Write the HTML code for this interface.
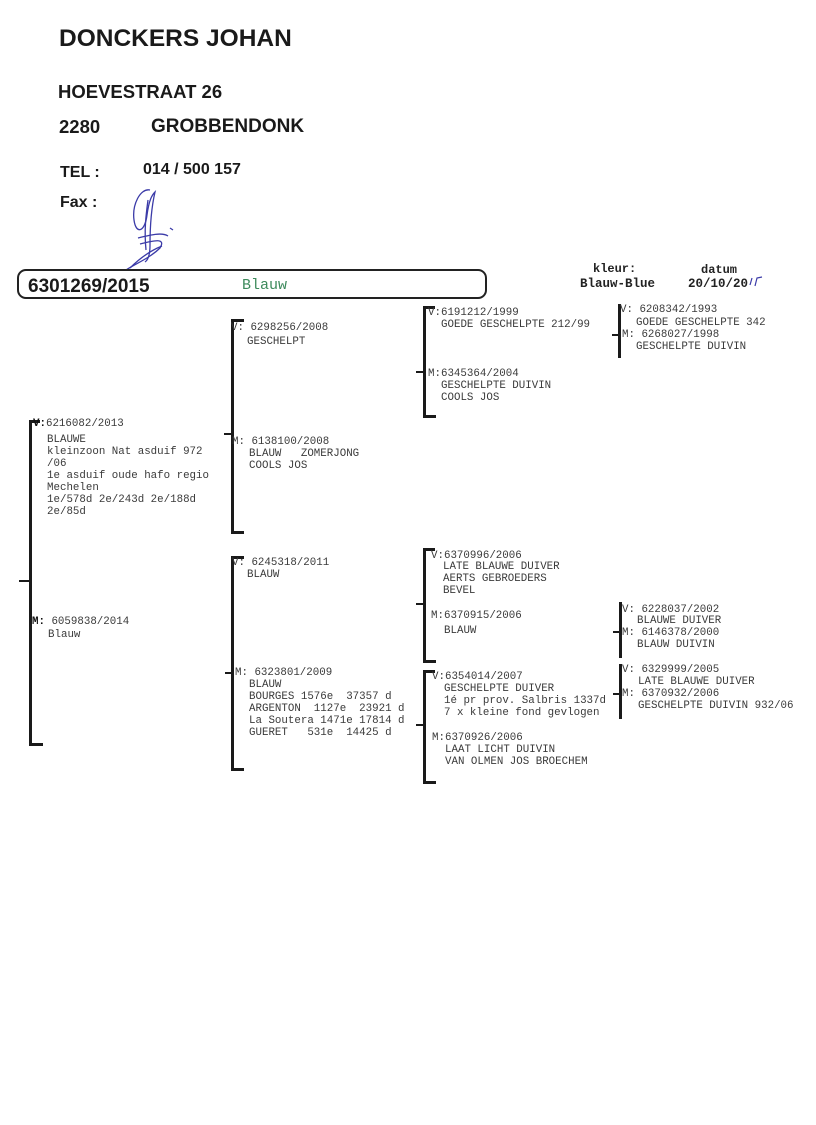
<!DOCTYPE html>
<html><head><meta charset="utf-8"><style>
body{margin:0;background:#fff;}
#p{position:relative;width:816px;height:1125px;overflow:hidden;background:#fff;}
.h{position:absolute;font-family:"Liberation Sans",Arial,sans-serif;font-weight:bold;color:#1a1a1a;white-space:pre;line-height:1;}
.t{position:absolute;font-family:"Liberation Mono","Courier New",monospace;font-size:10.8px;color:#3a3a3a;white-space:pre;line-height:12px;}
.l{position:absolute;font-family:"Liberation Mono","Courier New",monospace;font-size:10.8px;color:#3a3a3a;white-space:pre;line-height:14px;}
.b{position:absolute;background:#1a1a1a;}
.k{position:absolute;font-family:"Liberation Mono","Courier New",monospace;font-weight:bold;color:#222;white-space:pre;font-size:12px;line-height:14px;}
</style></head><body><div id="p">
<div class="h" style="left:59px;top:27px;font-size:24.5px;">DONCKERS JOHAN</div>
<div class="h" style="left:58px;top:83px;font-size:18.5px;">HOEVESTRAAT 26</div>
<div class="h" style="left:59px;top:118px;font-size:18.5px;">2280</div>
<div class="h" style="left:151px;top:117px;font-size:19px;">GROBBENDONK</div>
<div class="h" style="left:60px;top:165px;font-size:16px;">TEL :</div>
<div class="h" style="left:143px;top:162px;font-size:16px;">014 / 500 157</div>
<div class="h" style="left:60px;top:195px;font-size:16px;">Fax :</div>
<svg style="position:absolute;left:0;top:0" width="816" height="300">
<g fill="none" stroke="#3b3ba8" stroke-width="1.3">
<path d="M150 190 C140 188 132 205 134 220 C136 235 145 232 147 215 C149 200 152 195 155 192 C152 205 150 225 150 245 C150 255 148 260 145 262"/>
<path d="M138 238 C150 235 162 232 168 236 M140 244 C155 240 166 238 160 248 C150 258 135 264 126 270"/>
<path d="M130 268 C140 258 152 250 162 246 M170 228 L173 230"/>
<path d="M148 200 C146 215 144 230 146 250"/>
</g>
<g fill="none" stroke="#3b3ba8" stroke-width="1.2"><path d="M750 285 L752 278 M755 286 L757 278 L762 277"/></g>
</svg>
<div style="position:absolute;left:17px;top:269px;width:466px;height:26px;border:2px solid #222;border-radius:9px;"></div>
<div class="h" style="left:28px;top:277px;font-size:19px;">6301269/2015</div>
<div class="t" style="left:242px;top:278px;font-size:15px;line-height:16px;color:#3d8a5c;">Blauw</div>
<div class="k" style="left:593px;top:262px;">kleur:</div>
<div class="k" style="left:580px;top:277px;font-size:12.5px;">Blauw-Blue</div>
<div class="k" style="left:701px;top:263px;">datum</div>
<div class="k" style="left:688px;top:277px;font-size:12.5px;">20/10/20</div>

<!-- brackets -->
<div class="b" style="left:29px;top:420px;width:3px;height:326px"></div>
<div class="b" style="left:29px;top:420px;width:11px;height:3px"></div>
<div class="b" style="left:29px;top:743px;width:14px;height:3px"></div>
<div class="b" style="left:19px;top:580px;width:11px;height:2px"></div>

<div class="b" style="left:231px;top:319px;width:3px;height:215px"></div>
<div class="b" style="left:231px;top:319px;width:13px;height:3px"></div>
<div class="b" style="left:231px;top:531px;width:13px;height:3px"></div>
<div class="b" style="left:224px;top:433px;width:8px;height:2px"></div>

<div class="b" style="left:231px;top:556px;width:3px;height:215px"></div>
<div class="b" style="left:231px;top:556px;width:13px;height:3px"></div>
<div class="b" style="left:231px;top:768px;width:13px;height:3px"></div>
<div class="b" style="left:225px;top:672px;width:8px;height:2px"></div>

<div class="b" style="left:423px;top:306px;width:3px;height:112px"></div>
<div class="b" style="left:423px;top:306px;width:12px;height:3px"></div>
<div class="b" style="left:423px;top:415px;width:13px;height:3px"></div>
<div class="b" style="left:416px;top:371px;width:8px;height:2px"></div>

<div class="b" style="left:423px;top:548px;width:3px;height:115px"></div>
<div class="b" style="left:423px;top:548px;width:12px;height:3px"></div>
<div class="b" style="left:423px;top:660px;width:13px;height:3px"></div>
<div class="b" style="left:416px;top:603px;width:8px;height:2px"></div>

<div class="b" style="left:423px;top:670px;width:3px;height:114px"></div>
<div class="b" style="left:423px;top:670px;width:12px;height:3px"></div>
<div class="b" style="left:423px;top:781px;width:13px;height:3px"></div>
<div class="b" style="left:416px;top:724px;width:8px;height:2px"></div>

<div class="b" style="left:618px;top:304px;width:3px;height:54px"></div>
<div class="b" style="left:612px;top:334px;width:7px;height:2px"></div>
<div class="b" style="left:619px;top:602px;width:3px;height:56px"></div>
<div class="b" style="left:613px;top:631px;width:7px;height:2px"></div>
<div class="b" style="left:619px;top:664px;width:3px;height:55px"></div>
<div class="b" style="left:613px;top:693px;width:7px;height:2px"></div>

<!-- gen1 -->
<div class="l" style="left:33px;top:417px;"><b style="color:#111">V:</b>6216082/2013</div>
<div class="t" style="left:47px;top:434px;">BLAUWE
kleinzoon Nat asduif 972
/06
1e asduif oude hafo regio
Mechelen
1e/578d 2e/243d 2e/188d
2e/85d</div>
<div class="l" style="left:32px;top:615px;"><b style="color:#111">M:</b> 6059838/2014</div>
<div class="t" style="left:48px;top:629px;">Blauw</div>

<!-- gen2 -->
<div class="l" style="left:231px;top:321px;">V: 6298256/2008</div>
<div class="t" style="left:247px;top:336px;">GESCHELPT</div>
<div class="l" style="left:232px;top:435px;">M: 6138100/2008</div>
<div class="t" style="left:249px;top:448px;">BLAUW   ZOMERJONG
COOLS JOS</div>
<div class="l" style="left:232px;top:556px;">V: 6245318/2011</div>
<div class="t" style="left:247px;top:569px;">BLAUW</div>
<div class="l" style="left:235px;top:666px;">M: 6323801/2009</div>
<div class="t" style="left:249px;top:679px;">BLAUW
BOURGES 1576e  37357 d
ARGENTON  1127e  23921 d
La Soutera 1471e 17814 d
GUERET   531e  14425 d</div>

<!-- gen3 -->
<div class="l" style="left:428px;top:306px;">V:6191212/1999</div>
<div class="t" style="left:441px;top:319px;">GOEDE GESCHELPTE 212/99</div>
<div class="l" style="left:428px;top:367px;">M:6345364/2004</div>
<div class="t" style="left:441px;top:380px;">GESCHELPTE DUIVIN
COOLS JOS</div>
<div class="l" style="left:431px;top:549px;">V:6370996/2006</div>
<div class="t" style="left:443px;top:561px;">LATE BLAUWE DUIVER
AERTS GEBROEDERS
BEVEL</div>
<div class="l" style="left:431px;top:609px;">M:6370915/2006</div>
<div class="t" style="left:444px;top:625px;">BLAUW</div>
<div class="l" style="left:432px;top:670px;">V:6354014/2007</div>
<div class="t" style="left:444px;top:683px;">GESCHELPTE DUIVER
1é pr prov. Salbris 1337d
7 x kleine fond gevlogen</div>
<div class="l" style="left:432px;top:731px;">M:6370926/2006</div>
<div class="t" style="left:445px;top:744px;">LAAT LICHT DUIVIN
VAN OLMEN JOS BROECHEM</div>

<!-- gen4 -->
<div class="l" style="left:620px;top:303px;">V: 6208342/1993</div>
<div class="t" style="left:636px;top:317px;">GOEDE GESCHELPTE 342</div>
<div class="l" style="left:622px;top:328px;">M: 6268027/1998</div>
<div class="t" style="left:636px;top:341px;">GESCHELPTE DUIVIN</div>
<div class="l" style="left:622px;top:603px;">V: 6228037/2002</div>
<div class="t" style="left:637px;top:615px;">BLAUWE DUIVER</div>
<div class="l" style="left:622px;top:626px;">M: 6146378/2000</div>
<div class="t" style="left:637px;top:639px;">BLAUW DUIVIN</div>
<div class="l" style="left:622px;top:663px;">V: 6329999/2005</div>
<div class="t" style="left:638px;top:676px;">LATE BLAUWE DUIVER</div>
<div class="l" style="left:622px;top:687px;">M: 6370932/2006</div>
<div class="t" style="left:638px;top:700px;">GESCHELPTE DUIVIN 932/06</div>
</div></body></html>
